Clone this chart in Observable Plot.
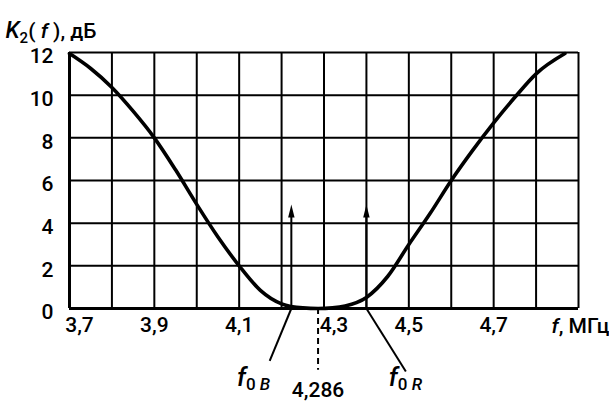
<!DOCTYPE html>
<html>
<head>
<meta charset="utf-8">
<script src="https://cdn.jsdelivr.net/npm/d3@7"></script>
<script src="https://cdn.jsdelivr.net/npm/@observablehq/plot@0.6"></script>
<style>
  html, body { margin: 0; padding: 0; background: #fff; }
  svg text { font-family: Roboto, "Liberation Sans", sans-serif; font-weight: 500; }
</style>
</head>
<body>
<div id="chart"></div>
<script>
// ---- data ----
const fValues = [3.7, 3.75, 3.8, 3.85, 3.9, 3.95, 4.0, 4.05, 4.1, 4.15, 4.2, 4.25, 4.286, 4.32, 4.35, 4.4, 4.45, 4.5, 4.55, 4.6, 4.65, 4.7, 4.75, 4.8, 4.868];
const kValues = [11.95, 11.25, 10.36, 9.25, 8.0, 6.5, 4.88, 3.35, 2.0, 0.85, 0.22, 0.03, 0, 0.03, 0.12, 0.52, 1.5, 3.0, 4.45, 6.0, 7.4, 8.7, 9.9, 11.0, 11.95];
const gridF = [3.7, 3.8, 3.9, 4.0, 4.1, 4.2, 4.3, 4.4, 4.5, 4.6, 4.7, 4.8, 4.9];
const gridK = [0, 2, 4, 6, 8, 10, 12];
const xTicks = [3.9, 4.1, 4.5, 4.7];
const xTicksShifted = [3.7, 4.3];
const yTicks = [0, 2, 4, 6, 8, 10, 12];
const markerF = [4.223, 4.4];          // f0B, f0R
const markerTop = [4.85, 4.85];
const leaderEndF = [4.172, 4.493];
const leaderEndK = [-2.45, -2.95];
const markerNames = ["f0B", "f0R"];
const labelF = [4.134, 4.492];
const labelK = [-3.3, -3.3];
const centerF = 4.286;
const centerLabel = "4,286";
const dashEndK = -2.9;
const centerLabelK = -3.85;

const curve = fValues.map((f, i) => ({f, k: kValues[i]}));
const markers = markerF.map((f, i) => ({f, top: markerTop[i], lf: leaderEndF[i], lk: leaderEndK[i], name: markerNames[i], tx: labelF[i], ty: labelK[i]}));
const fmt = d => String(d).replace(".", ",");

const narrowTriangle = {
  draw(context, size) {
    const h = 13, w = 3.2;
    context.moveTo(0, -h / 2);
    context.lineTo(w, h / 2);
    context.lineTo(-w, h / 2);
    context.closePath();
  }
};

const FS = 21;

const plot = Plot.plot({
  width: 609,
  height: 403,
  marginLeft: 69,
  marginRight: 31,
  marginTop: 52,
  marginBottom: 95,
  x: {domain: [3.7, 4.9], axis: null},
  y: {domain: [0, 12], axis: null},
  style: {background: "#fff", color: "#000", fontSize: "21px", fontFamily: "Roboto, 'Liberation Sans', sans-serif"},
  marks: [
    Plot.ruleX(gridF, {stroke: "#000", strokeWidth: 2}),
    Plot.ruleY(gridK, {stroke: "#000", strokeWidth: 2}),
    Plot.ruleY([0], {stroke: "#000", strokeWidth: 3.2}),
    Plot.ruleX([3.7], {stroke: "#000", strokeWidth: 3}),
    Plot.line(curve, {x: "f", y: "k", curve: "monotone-x", stroke: "#000", strokeWidth: 3.6}),
    // arrows
    Plot.ruleX(markers, {x: "f", y1: 0, y2: d => d.top - 0.3, stroke: "#000", strokeWidth: 2}),
    Plot.dot(markers, {x: "f", y: "top", symbol: narrowTriangle, fill: "#000", stroke: "none", r: 4, dy: 6}),
    // leaders
    Plot.link(markers, {x1: "f", y1: 0, x2: "lf", y2: "lk", stroke: "#000", strokeWidth: 2, clip: false}),
    Plot.text(markers, {x: "tx", y: "ty", text: "name", textAnchor: "middle", fontSize: FS}),
    // dashed center line
    Plot.ruleX([centerF], {y1: 0, y2: dashEndK, stroke: "#000", strokeWidth: 2, strokeDasharray: "6,4"}),
    Plot.text([centerLabel], {x: centerF, y: centerLabelK, text: d => d, textAnchor: "middle", fontSize: FS}),
    // tick labels
    Plot.text(yTicks, {frameAnchor: "left", y: d => d, text: d => String(d), dx: -16, dy: 4, textAnchor: "end", fontSize: FS}),
    Plot.text(xTicks, {x: d => d, frameAnchor: "bottom", text: fmt, dy: 23, fontSize: FS}),
    Plot.text(xTicksShifted, {x: d => d, frameAnchor: "bottom", text: fmt, dx: 10, dy: 23, fontSize: FS}),
    Plot.text(["fMHz"], {frameAnchor: "bottom-right", text: d => d, dx: -27, dy: 24, textAnchor: "start", fontSize: FS}),
    Plot.text(["title"], {frameAnchor: "top-left", text: d => d, dx: -64, dy: -29, textAnchor: "start", fontSize: FS})
  ]
});

d3.select(plot).selectAll("text").each(function() {
  const t = this.textContent;
  const sel = d3.select(this);
  if (t === "title") {
    sel.html('<tspan font-style="italic" font-size="23">K</tspan><tspan font-size="15" dy="5">2</tspan><tspan dy="-5">( </tspan><tspan font-style="italic">f</tspan><tspan> ), дБ</tspan>');
  } else if (t === "fMHz") {
    sel.html('<tspan font-style="italic">f</tspan><tspan>, МГц</tspan>');
  } else if (t === "f0B" || t === "f0R") {
    const letter = t.slice(2);
    sel.html('<tspan font-style="italic" font-size="26">f</tspan><tspan font-size="17" dy="4">0 </tspan><tspan font-size="17" font-style="italic">' + letter + '</tspan>');
  }
});

document.getElementById("chart").appendChild(plot);
</script>
</body>
</html>
